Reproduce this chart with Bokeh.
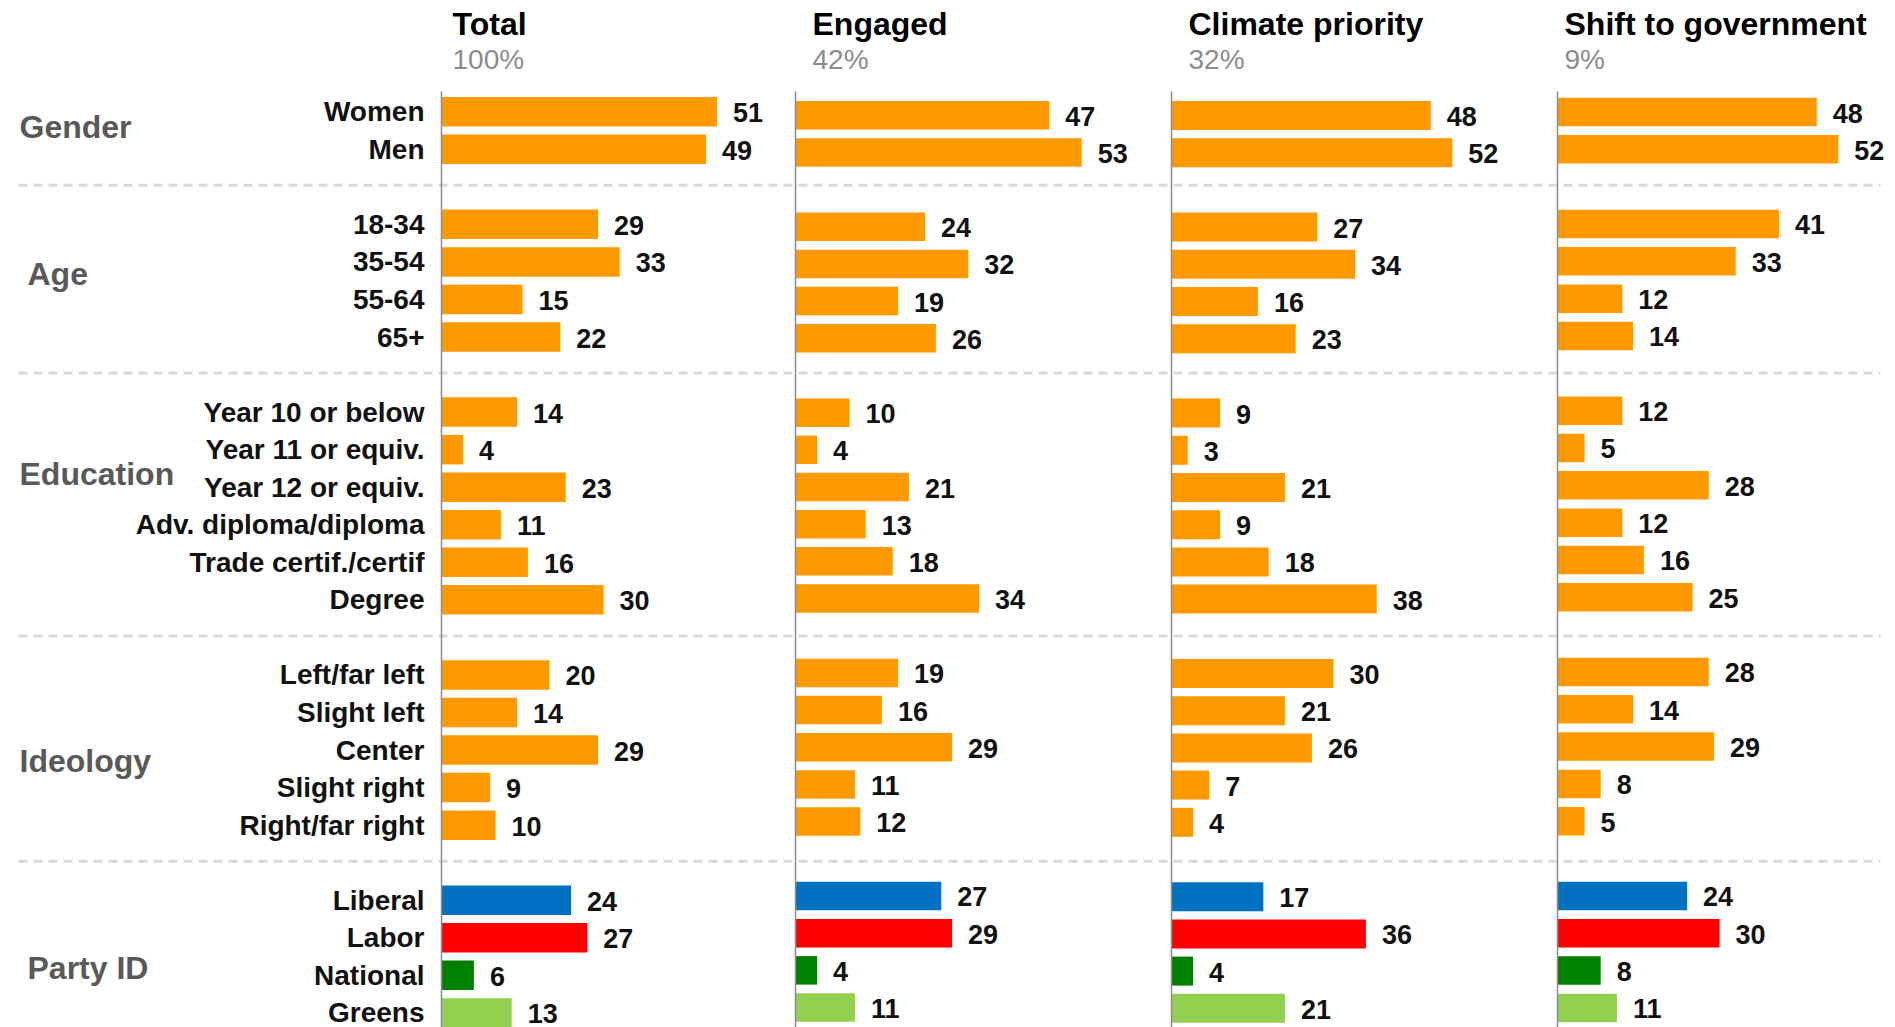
from bokeh.plotting import figure
from bokeh.models import ColumnDataSource, Range1d
from bokeh.core.properties import value
from bokeh.embed import file_html
from bokeh.resources import INLINE

# ---------------- data ----------------
groups = ["Gender", "Age", "Education", "Ideology", "Party ID"]
group_sizes = [2, 4, 6, 5, 4]
categories = ["Women", "Men",
              "18-34", "35-54", "55-64", "65+",
              "Year 10 or below", "Year 11 or equiv.", "Year 12 or equiv.",
              "Adv. diploma/diploma", "Trade certif./certif", "Degree",
              "Left/far left", "Slight left", "Center", "Slight right", "Right/far right",
              "Liberal", "Labor", "National", "Greens"]
panel_titles = ["Total", "Engaged", "Climate priority", "Shift to government"]
panel_shares = ["100%", "42%", "32%", "9%"]

total = [51, 49, 29, 33, 15, 22, 14, 4, 23, 11, 16, 30, 20, 14, 29, 9, 10, 24, 27, 6, 13]
engaged = [47, 53, 24, 32, 19, 26, 10, 4, 21, 13, 18, 34, 19, 16, 29, 11, 12, 27, 29, 4, 11]
climate = [48, 52, 27, 34, 16, 23, 9, 3, 21, 9, 18, 38, 30, 21, 26, 7, 4, 17, 36, 4, 21]
shift = [48, 52, 41, 33, 12, 14, 12, 5, 28, 12, 16, 25, 28, 14, 29, 8, 5, 24, 30, 8, 11]
series = [total, engaged, climate, shift]

party_colors = {"Liberal": "#0070C0", "Labor": "#FF0000",
                "National": "#008000", "Greens": "#92D050"}
ORANGE = "#FF9900"

# ---------------- layout (pixels) ----------------
W, H = 1895, 1027
ORIGINS = [441, 795, 1171, 1557]       # zero line of each panel
TITLE_DX = [11, 17, 17, 7]
SCALE = 5.40                            # px per percentage point
PANEL_ROW0 = [111.2, 114.7, 115.0, 111.5]
PANEL_STEP = [37.55, 37.18, 37.20, 37.33]
PANEL_BAR_H = [29.5, 28.5, 29.0, 28.5]
GROUP_LABEL_ROW = [0.42, 4.32, 9.66, 17.3, 22.8]
GROUP_LABEL_X = [19, 27, 19, 19, 27]
FONT = value("Liberation Sans")

# row index for each category (one blank row between groups)
rows, sep_rows = [], []
r = 0
for gi, n in enumerate(group_sizes):
    for k in range(n):
        rows.append(r)
        r += 1
    if gi < len(group_sizes) - 1:
        sep_rows.append(r)
        r += 1
colors = [party_colors.get(c, ORANGE) for c in categories]

p = figure(width=W, height=H, output_backend="svg", toolbar_location=None,
           x_range=Range1d(0, W), y_range=Range1d(H, 0),
           x_axis_location=None, y_axis_location=None,
           min_border=0, min_border_left=0, min_border_right=0,
           min_border_top=0, min_border_bottom=0)
p.outline_line_color = None
p.grid.visible = False
p.background_fill_color = "white"
p.border_fill_color = "white"

ROW0, STEP = PANEL_ROW0[0], PANEL_STEP[0]
label_y = [ROW0 + STEP * ri for ri in rows]

# dashed separators
for sr in sep_rows:
    y = ROW0 + STEP * sr - 1.5
    p.line([18, 1880], [y, y], line_color="#D9D9D9", line_width=3, line_dash="9 6")

# panels
for pi, vals in enumerate(series):
    o = ORIGINS[pi]
    ys = [PANEL_ROW0[pi] + PANEL_STEP[pi] * ri for ri in rows]
    src = ColumnDataSource(dict(
        y=ys,
        left=[o] * len(vals),
        right=[o + v * SCALE for v in vals],
        color=colors,
        lx=[o + v * SCALE + 16 for v in vals],
        lab=[str(v) for v in vals],
    ))
    p.hbar(y="y", left="left", right="right", height=PANEL_BAR_H[pi], color="color",
           line_color=None, source=src)
    p.text(x="lx", y="y", text="lab", source=src, text_font=FONT,
           text_font_style="bold", text_font_size="27px", text_color="#111111",
           text_align="left", text_baseline="middle", y_offset=1)
    # zero line
    p.line([o, o], [91, H], line_color="#8C8C8C", line_width=1.5)
    # headings
    p.text(x=[o + TITLE_DX[pi]], y=[23], text=[panel_titles[pi]], text_font=FONT,
           text_font_style="bold", text_font_size="32px", text_color="#000000",
           text_align="left", text_baseline="middle")
    p.text(x=[o + TITLE_DX[pi]], y=[59], text=[panel_shares[pi]], text_font=FONT,
           text_font_size="28px", text_color="#8C8C8C",
           text_align="left", text_baseline="middle")

# category labels
p.text(x=[ORIGINS[0] - 17] * len(categories), y=label_y, text=categories,
       text_font=FONT, text_font_style="bold", text_font_size="28px",
       text_color="#111111", text_align="right", text_baseline="middle")

# group labels
p.text(x=GROUP_LABEL_X, y=[ROW0 + STEP * g for g in GROUP_LABEL_ROW], text=groups,
       text_font=FONT, text_font_style="bold", text_font_size="32px",
       text_color="#595959", text_align="left", text_baseline="middle")

open("out.html", "w").write(file_html(p, INLINE))
